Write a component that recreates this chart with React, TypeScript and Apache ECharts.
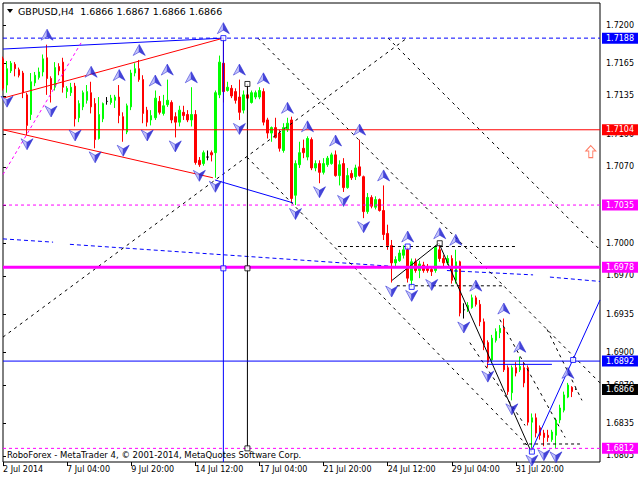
import React, { useEffect, useRef } from 'react';
import * as echarts from 'echarts';

const symbolName = 'GBPUSD';
const timeframe = 'H4';
const copyrightText = 'RoboForex - MetaTrader 4, \u00A9 2001-2014, MetaQuotes Software Corp.';

// H4 candles: [open, close, low, high]
const candles: number[][] = [
  [1.7169, 1.7142, 1.7140, 1.7171], [1.7145, 1.7160, 1.7138, 1.7167], [1.7158, 1.7165, 1.7156, 1.7167],
  [1.7164, 1.7160, 1.7153, 1.7166], [1.7159, 1.7154, 1.7152, 1.7161], [1.7156, 1.7138, 1.7133, 1.7158],
  [1.7136, 1.7108, 1.7099, 1.7138], [1.7118, 1.7148, 1.7113, 1.7156], [1.7147, 1.7154, 1.7144, 1.7157],
  [1.7152, 1.7157, 1.7150, 1.7161], [1.7157, 1.7169, 1.7153, 1.7173], [1.7170, 1.7151, 1.7136, 1.7182],
  [1.7151, 1.7141, 1.7129, 1.7153], [1.7143, 1.7161, 1.7140, 1.7166], [1.7162, 1.7158, 1.7154, 1.7165],
  [1.7166, 1.7143, 1.7138, 1.7170], [1.7139, 1.7142, 1.7133, 1.7144], [1.7138, 1.7143, 1.7135, 1.7147],
  [1.7144, 1.7114, 1.7107, 1.7147], [1.7115, 1.7128, 1.7111, 1.7131], [1.7125, 1.7138, 1.7122, 1.7140],
  [1.7131, 1.7139, 1.7128, 1.7145], [1.7138, 1.7125, 1.7119, 1.7148], [1.7128, 1.7095, 1.7087, 1.7133],
  [1.7096, 1.7118, 1.7095, 1.7134], [1.7114, 1.7128, 1.7111, 1.7129], [1.7130, 1.7130, 1.7127, 1.7134],
  [1.7129, 1.7133, 1.7127, 1.7136], [1.7131, 1.7134, 1.7124, 1.7136], [1.7134, 1.7117, 1.7110, 1.7145],
  [1.7116, 1.7104, 1.7093, 1.7120], [1.7102, 1.7126, 1.7100, 1.7128], [1.7125, 1.7156, 1.7122, 1.7159],
  [1.7156, 1.7160, 1.7153, 1.7165], [1.7160, 1.7150, 1.7148, 1.7168], [1.7150, 1.7119, 1.7110, 1.7154],
  [1.7122, 1.7111, 1.7107, 1.7125], [1.7113, 1.7117, 1.7108, 1.7122], [1.7115, 1.7133, 1.7113, 1.7140],
  [1.7130, 1.7120, 1.7118, 1.7135], [1.7119, 1.7126, 1.7117, 1.7136], [1.7127, 1.7131, 1.7125, 1.7150],
  [1.7129, 1.7113, 1.7110, 1.7131], [1.7116, 1.7111, 1.7097, 1.7120], [1.7111, 1.7122, 1.7107, 1.7126],
  [1.7120, 1.7117, 1.7113, 1.7126], [1.7118, 1.7113, 1.7111, 1.7122], [1.7113, 1.7118, 1.7107, 1.7143],
  [1.7118, 1.7074, 1.7072, 1.7122], [1.7076, 1.7072, 1.7070, 1.7079], [1.7073, 1.7083, 1.7071, 1.7085],
  [1.7079, 1.7079, 1.7076, 1.7085], [1.7083, 1.7081, 1.7075, 1.7085], [1.7083, 1.7138, 1.7060, 1.7140],
  [1.7136, 1.7166, 1.7133, 1.7172], [1.7165, 1.7139, 1.7129, 1.7188], [1.7140, 1.7143, 1.7139, 1.7148],
  [1.7142, 1.7135, 1.7133, 1.7145], [1.7139, 1.7131, 1.7128, 1.7142], [1.7134, 1.7120, 1.7113, 1.7150],
  [1.7122, 1.7136, 1.7119, 1.7140], [1.7136, 1.7133, 1.7131, 1.7146], [1.7129, 1.7138, 1.7128, 1.7140],
  [1.7134, 1.7138, 1.7132, 1.7140], [1.7134, 1.7140, 1.7132, 1.7143], [1.7139, 1.7111, 1.7108, 1.7142],
  [1.7113, 1.7101, 1.7096, 1.7115], [1.7101, 1.7106, 1.7093, 1.7107], [1.7106, 1.7097, 1.7096, 1.7115],
  [1.7101, 1.7087, 1.7084, 1.7104], [1.7085, 1.7106, 1.7083, 1.7110], [1.7104, 1.7110, 1.7102, 1.7115],
  [1.7113, 1.7041, 1.7037, 1.7116], [1.7044, 1.7073, 1.7035, 1.7076], [1.7072, 1.7083, 1.7069, 1.7093],
  [1.7087, 1.7083, 1.7078, 1.7095], [1.7079, 1.7096, 1.7076, 1.7098], [1.7095, 1.7069, 1.7067, 1.7097],
  [1.7069, 1.7073, 1.7066, 1.7076], [1.7073, 1.7065, 1.7055, 1.7076], [1.7065, 1.7073, 1.7063, 1.7078],
  [1.7072, 1.7078, 1.7070, 1.7080], [1.7073, 1.7081, 1.7072, 1.7083], [1.7081, 1.7062, 1.7061, 1.7085],
  [1.7062, 1.7072, 1.7053, 1.7076], [1.7073, 1.7051, 1.7047, 1.7078], [1.7051, 1.7062, 1.7050, 1.7069],
  [1.7064, 1.7060, 1.7058, 1.7067], [1.7061, 1.7069, 1.7058, 1.7072], [1.7070, 1.7062, 1.7061, 1.7095],
  [1.7061, 1.7029, 1.7023, 1.7062], [1.7029, 1.7042, 1.7027, 1.7046], [1.7042, 1.7034, 1.7032, 1.7044],
  [1.7033, 1.7040, 1.7031, 1.7043], [1.7040, 1.7030, 1.7029, 1.7041], [1.7030, 1.7008, 1.7003, 1.7053],
  [1.7009, 1.6998, 1.6994, 1.7017], [1.6998, 1.6982, 1.6964, 1.7003], [1.6982, 1.6985, 1.6979, 1.6988],
  [1.6984, 1.6991, 1.6983, 1.6994], [1.6989, 1.6994, 1.6986, 1.6998], [1.6994, 1.6968, 1.6964, 1.6997],
  [1.6966, 1.6983, 1.6960, 1.6986], [1.6983, 1.6975, 1.6973, 1.6986], [1.6975, 1.6981, 1.6968, 1.6984],
  [1.6980, 1.6975, 1.6973, 1.6983], [1.6977, 1.6975, 1.6973, 1.6981], [1.6976, 1.6974, 1.6970, 1.6979],
  [1.6975, 1.6996, 1.6973, 1.6998], [1.6994, 1.6986, 1.6983, 1.7000], [1.6986, 1.6982, 1.6979, 1.6989],
  [1.6982, 1.6986, 1.6980, 1.6989], [1.6986, 1.6966, 1.6963, 1.6989], [1.6966, 1.6983, 1.6963, 1.6994],
  [1.6983, 1.6936, 1.6933, 1.6984], [1.6939, 1.6939, 1.6931, 1.6945], [1.6939, 1.6943, 1.6937, 1.6946],
  [1.6941, 1.6950, 1.6940, 1.6953], [1.6950, 1.6944, 1.6942, 1.6952], [1.6944, 1.6928, 1.6924, 1.6948],
  [1.6928, 1.6907, 1.6902, 1.6931], [1.6909, 1.6891, 1.6886, 1.6911], [1.6893, 1.6913, 1.6890, 1.6916],
  [1.6911, 1.6919, 1.6909, 1.6922], [1.6918, 1.6922, 1.6913, 1.6925], [1.6922, 1.6884, 1.6882, 1.6931],
  [1.6886, 1.6864, 1.6861, 1.6888], [1.6863, 1.6886, 1.6856, 1.6888], [1.6886, 1.6881, 1.6878, 1.6891],
  [1.6884, 1.6887, 1.6882, 1.6896], [1.6886, 1.6872, 1.6868, 1.6891], [1.6886, 1.6836, 1.6833, 1.6888],
  [1.6836, 1.6840, 1.6809, 1.6844], [1.6840, 1.6826, 1.6822, 1.6844], [1.6831, 1.6824, 1.6820, 1.6833],
  [1.6826, 1.6822, 1.6814, 1.6829], [1.6824, 1.6822, 1.6818, 1.6829], [1.6820, 1.6827, 1.6818, 1.6829],
  [1.6824, 1.6838, 1.6812, 1.6840], [1.6838, 1.6849, 1.6835, 1.6852], [1.6847, 1.6861, 1.6845, 1.6864],
  [1.6859, 1.6870, 1.6858, 1.6872], [1.6868, 1.6864, 1.6859, 1.6869], [1.6866, 1.6866, 1.6866, 1.6867],
];

const totalSlots = 150; // bars incl. right-side empty shift
const firstBarTime = Date.UTC(2014, 6, 2, 12, 0);
const labelEvery = 16;

const yTickValues = [1.72, 1.7165, 1.7135, 1.71, 1.707, 1.7035, 1.7, 1.697, 1.6935, 1.69, 1.687, 1.6835, 1.6805];
const yMin = 1.67995;
const yMax = 1.72202;

const upFractalBars = [11, 22, 29, 34, 38, 41, 47, 55, 59, 65, 71, 76, 83, 89, 95, 101, 109, 113, 118, 125, 129, 141];
const downFractalBars = [1, 6, 12, 18, 23, 30, 36, 43, 49, 53, 59, 73, 79, 85, 90, 97, 102, 107, 115, 121, 127, 132, 135, 138];

// horizontal price levels
const levelPrices = [1.7188, 1.7104, 1.7035, 1.6978, 1.6892, 1.6866, 1.6812];

// trend lines [barIndex, price]
const blueTopLine = [[0, 1.7178], [55, 1.7188]];
const redTopLine = [[0, 1.7133], [55, 1.7188]];
const redBottomLine = [[0, 1.7104], [52.4, 1.706]];
const blueBottomLine = [[52.9, 1.7058], [72.4, 1.7037]];
const magentaDiagLine = [[0, 1.7063], [19.7, 1.7185]];
const blueDashSeg1 = [[0, 1.7004], [12.5, 1.7001]];
const blueDashSeg2 = [[16.7, 1.6999], [96.6, 1.6979]];
const blueDashSeg3 = [[110.8, 1.6975], [132.3, 1.6971]];
const blueDashSeg4 = [[136.5, 1.6969], [149, 1.6965]];
const channelLine1 = [[63.6, 1.7188], [149, 1.6872]];
const channelLine2 = [[96.1, 1.7188], [149, 1.6994]];
const channelLine3 = [[0, 1.6914], [100.8, 1.7188]];
const channelLine5 = [[60.9, 1.7079], [130.8, 1.6815]];
const steepLine1 = [[116.5, 1.6909], [130.3, 1.6833]];
const steepLine2 = [[124.0, 1.693], [140.3, 1.6822]];
const steepLine3 = [[135.8, 1.6921], [144.5, 1.6856]];
const zigzagLine = [[97.1, 1.6966], [108.8, 1.7], [131.8, 1.6809]];
const blueRiseLine = [[131.8, 1.6809], [149, 1.6948]];
const blueShortLine = [[120.8, 1.6889], [137, 1.6889]];
const hDash1 = [[83.6, 1.6997], [128.3, 1.6997]];
const hDash2 = [[98.3, 1.6961], [125.3, 1.6961]];
const hDash3 = [[129.8, 1.6816], [144, 1.6816]];
const blackVertical = [[61, 1.7146], [61, 1.6812]];
const blueVertical = [[55, 1.7188], [55, 1.67995]];
const blueSquares = [[55, 1.7188], [55, 1.6977], [101, 1.6997], [102, 1.696], [132, 1.6809], [142.3, 1.6893]];
const blackSquares = [[61, 1.7146], [61, 1.6977], [61, 1.6812], [109, 1.7]];
const signalArrow = [[146.7, 1.7084]];

const FONT = "'DejaVu Sans', 'Liberation Sans', sans-serif";
const MONTHS = ['Jan', 'Feb', 'Mar', 'Apr', 'May', 'Jun', 'Jul', 'Aug', 'Sep', 'Oct', 'Nov', 'Dec'];

function buildBarTimes(n: number): string[] {
  const out: string[] = [];
  let t = firstBarTime;
  for (let i = 0; i < n; i++) {
    out.push(String(t));
    t += 4 * 3600 * 1000;
    let d = new Date(t).getUTCDay();
    while (d === 0 || d === 6) {
      t += 4 * 3600 * 1000;
      d = new Date(t).getUTCDay();
    }
  }
  return out;
}

const pad = (n: number) => (n < 10 ? '0' + n : String(n));

export default function App() {
  const ref = useRef<HTMLDivElement>(null);
  useEffect(() => {
    if (!ref.current) return;
    const chart = echarts.init(ref.current, undefined, { renderer: 'svg' });
    const categories = buildBarTimes(totalSlots);
    const showLabel = (index: number) => index % labelEvery === 0 && index < candles.length;

    const seg = (data: number[][], color: string, width: number, type: any) => ({
      type: 'line',
      xAxisIndex: 1,
      yAxisIndex: 0,
      data,
      symbol: 'none',
      silent: true,
      z: 4,
      lineStyle: { color, width, type },
    });

    const levelStyles = [
      { color: '#0000ff', width: 1, type: [4, 3], bg: '#0000ff' },
      { color: '#ff0000', width: 1, type: 'solid', bg: '#ff0000' },
      { color: '#ff00ff', width: 1, type: [3, 3], bg: '#ff00ff' },
      { color: '#ff00ff', width: 3, type: 'solid', bg: '#ff00ff' },
      { color: '#0000ff', width: 1, type: 'solid', bg: '#0000ff' },
      { color: 'rgba(0,0,0,0)', width: 1, type: 'solid', bg: '#000000' },
      { color: '#ff00ff', width: 1, type: [3, 3], bg: '#ff00ff' },
    ];

    const levelSeries = levelPrices.map((p, k) => ({
      type: 'line',
      xAxisIndex: 1,
      yAxisIndex: 0,
      data: [[0, p], [totalSlots - 1, p]],
      symbol: 'none',
      silent: true,
      z: 5,
      lineStyle: { color: levelStyles[k].color, width: levelStyles[k].width, type: levelStyles[k].type },
      endLabel: {
        show: true,
        distance: 2,
        formatter: () => p.toFixed(4),
        backgroundColor: levelStyles[k].bg,
        color: '#ffffff',
        fontSize: 8,
        fontFamily: FONT,
        padding: [1, 4, 1, 4],
        lineHeight: 9,
      },
    }));

    const last = candles[candles.length - 1];
    const titleText = `${symbolName},${timeframe}  ${last[0].toFixed(4)} ${last[3].toFixed(4)} ${last[2].toFixed(4)} ${last[1].toFixed(4)}`;

    const upArrowPath = 'path://M6,0 L12,11 L6,7.5 L0,11 Z';
    const downArrowPath = 'path://M0,0 L6,3.5 L12,0 L6,11 Z';
    const arrowFill = new echarts.graphic.LinearGradient(0, 0, 1, 0, [
      { offset: 0, color: '#c4c4fa' },
      { offset: 0.42, color: '#b0b0f6' },
      { offset: 0.5, color: '#1a1ad2' },
      { offset: 1, color: '#0c0cc0' },
    ]);

    chart.setOption({
      animation: false,
      backgroundColor: '#ffffff',
      grid: { left: 3, right: 40, top: 3, bottom: 18, show: true, borderColor: '#000', borderWidth: 1, backgroundColor: '#fff' },
      xAxis: [
        {
          type: 'category',
          data: categories,
          boundaryGap: false,
          axisLine: { show: false },
          axisTick: { show: true, interval: (i: number) => showLabel(i), length: 4, lineStyle: { color: '#000' } },
          axisLabel: {
            interval: (i: number) => showLabel(i),
            align: 'left',
            margin: 3,
            fontSize: 8,
            fontFamily: FONT,
            color: '#000',
            formatter: (v: string, idx: number) => {
              const d = new Date(Number(v));
              const base = `${d.getUTCDate()} ${MONTHS[d.getUTCMonth()]}`;
              if (idx === 0) return `${base} ${d.getUTCFullYear()}`;
              return `${base} ${pad(d.getUTCHours())}:${pad(d.getUTCMinutes())}`;
            },
          },
          splitLine: { show: false },
        },
        { type: 'value', min: 0, max: totalSlots - 1, show: false },
      ],
      yAxis: {
        type: 'value',
        position: 'right',
        min: yMin,
        max: yMax,
        scale: true,
        splitLine: { show: false },
        axisLine: { show: false },
        axisTick: { show: true, length: 3, customValues: yTickValues, lineStyle: { color: '#000' } },
        axisLabel: {
          customValues: yTickValues,
          formatter: (v: number) => v.toFixed(4),
          margin: 6,
          fontSize: 8,
          fontFamily: FONT,
          color: '#000',
        },
      },
      series: [
        {
          type: 'candlestick',
          data: candles,
          barWidth: 2,
          clip: true,
          z: 2,
          itemStyle: {
            color: '#00ff00',
            color0: '#ff0000',
            borderColor: '#00ff00',
            borderColor0: '#ff0000',
            borderColorDoji: '#000000',
            borderWidth: 1,
          },
        },
        ...levelSeries,
        seg(blueTopLine, '#0000ff', 1, 'solid'),
        seg(redTopLine, '#ff0000', 1, 'solid'),
        seg(redBottomLine, '#ff0000', 1, 'solid'),
        seg(blueBottomLine, '#0000ff', 1, 'solid'),
        seg(magentaDiagLine, '#ff00ff', 1, [3, 3]),
        seg(blueDashSeg1, '#0000ff', 1, [4, 3]),
        seg(blueDashSeg2, '#0000ff', 1, [4, 3]),
        seg(blueDashSeg3, '#0000ff', 1, [4, 3]),
        seg(blueDashSeg4, '#0000ff', 1, [4, 3]),
        seg(channelLine1, '#000000', 1, [3, 4]),
        seg(channelLine2, '#000000', 1, [3, 4]),
        seg(channelLine3, '#000000', 1, [3, 4]),
        seg(channelLine5, '#000000', 1, [3, 4]),
        seg(steepLine1, '#000000', 1, [3, 4]),
        seg(steepLine2, '#000000', 1, [3, 4]),
        seg(steepLine3, '#000000', 1, [3, 4]),
        seg(zigzagLine, '#000000', 1, 'solid'),
        seg(blueRiseLine, '#0000ff', 1, 'solid'),
        seg(blueShortLine, '#0000ff', 1, 'solid'),
        seg(hDash1, '#000000', 1, [3, 3]),
        seg(hDash2, '#000000', 1, [3, 3]),
        seg(hDash3, '#000000', 1, [3, 3]),
        seg(blackVertical, '#000000', 1, 'solid'),
        seg(blueVertical, '#0000ff', 1, 'solid'),
        {
          type: 'scatter',
          xAxisIndex: 0,
          yAxisIndex: 0,
          silent: true,
          z: 6,
          data: upFractalBars.map((i) => [i, candles[i][3]]),
          symbol: upArrowPath,
          symbolSize: [12, 11],
          symbolOffset: [0, -10],
          itemStyle: { color: arrowFill, borderColor: '#2a2ad8', borderWidth: 0.7 },
        },
        {
          type: 'scatter',
          xAxisIndex: 0,
          yAxisIndex: 0,
          silent: true,
          z: 6,
          data: downFractalBars.map((i) => [i, candles[i][2]]),
          symbol: downArrowPath,
          symbolSize: [12, 11],
          symbolOffset: [0, 9],
          itemStyle: { color: arrowFill, borderColor: '#2a2ad8', borderWidth: 0.7 },
        },
        {
          type: 'scatter',
          xAxisIndex: 1,
          yAxisIndex: 0,
          silent: true,
          z: 7,
          data: blueSquares,
          symbol: 'rect',
          symbolSize: 5,
          itemStyle: { color: '#ffffff', borderColor: '#0000ff', borderWidth: 1 },
        },
        {
          type: 'scatter',
          xAxisIndex: 1,
          yAxisIndex: 0,
          silent: true,
          z: 7,
          data: blackSquares,
          symbol: 'rect',
          symbolSize: 5,
          itemStyle: { color: '#ffffff', borderColor: '#000000', borderWidth: 1 },
        },
        {
          type: 'scatter',
          xAxisIndex: 1,
          yAxisIndex: 0,
          silent: true,
          z: 7,
          data: signalArrow,
          symbol: 'path://M5,0 L10,5 L7,5 L7,11 L3,11 L3,5 L0,5 Z',
          symbolSize: [10, 12],
          itemStyle: { color: '#ffffff', borderColor: '#ff5a3c', borderWidth: 1 },
        },
      ],
      graphic: [
        { type: 'polygon', shape: { points: [[7, 9], [13, 9], [10, 13]] }, style: { fill: '#000' }, z: 10 },
        {
          type: 'text',
          x: 18,
          y: 11,
          style: { text: titleText, fill: '#000', font: `9.5px ${FONT}`, textVerticalAlign: 'middle' },
          z: 10,
        },
        {
          type: 'text',
          x: 7,
          y: 455,
          style: { text: copyrightText, fill: '#000', font: `8.5px ${FONT}`, textVerticalAlign: 'middle' },
          z: 10,
        },
      ],
    });
    return () => chart.dispose();
  }, []);
  return <div ref={ref} style={{ position: 'fixed', left: 0, top: 0, width: 640, height: 480, background: '#fff' }} />;
}
